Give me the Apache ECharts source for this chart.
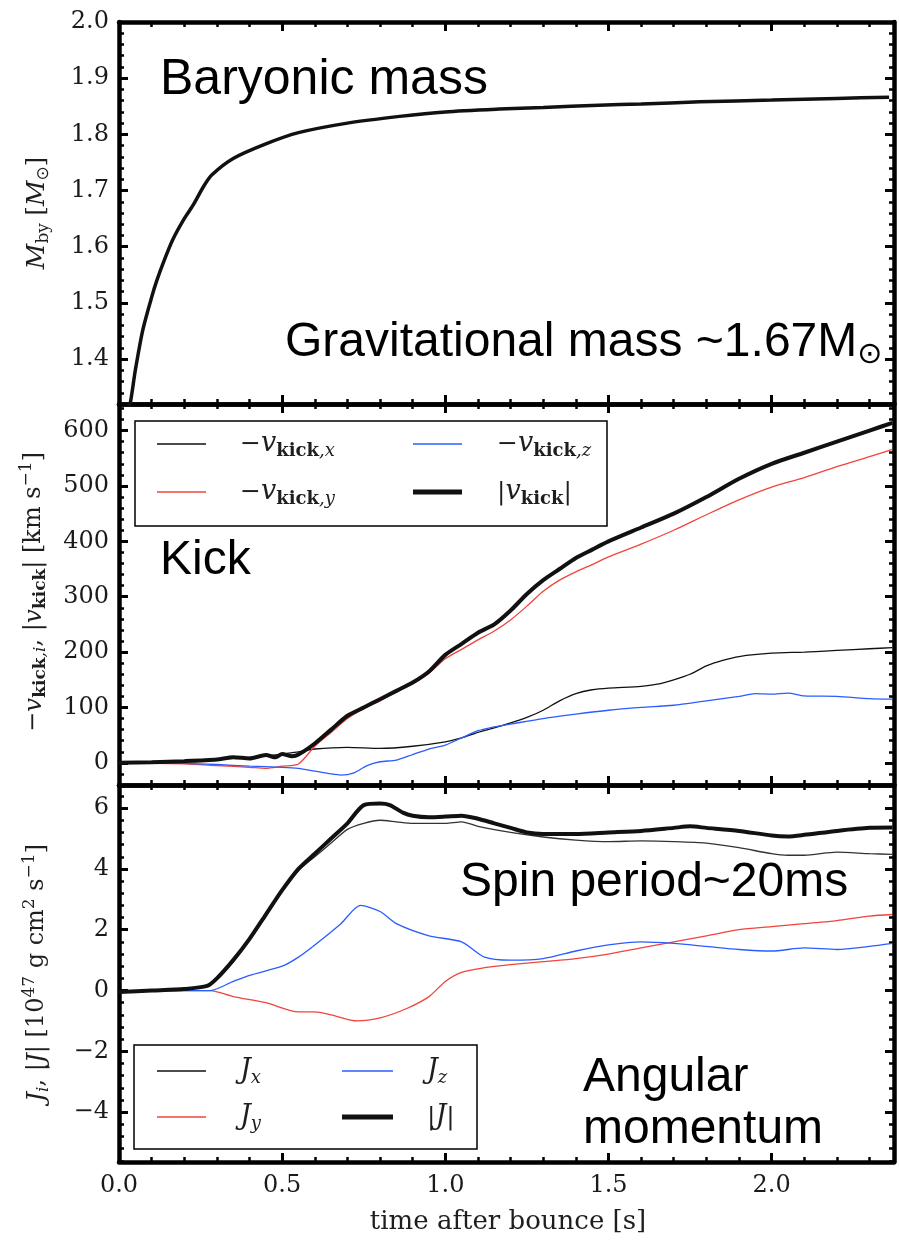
<!DOCTYPE html>
<html>
<head>
<meta charset="utf-8">
<script src="https://cdn.jsdelivr.net/npm/echarts@6/dist/echarts.min.js"></script>
<style>html,body{margin:0;padding:0;background:#fff;}#c{width:899px;height:1247px;}</style>
</head>
<body>
<div id="c"></div>
<script>
// ---------- data ----------
const X_TICKS = [0, 0.5, 1.0, 1.5, 2.0];
const M_TICKS = [1.4, 1.5, 1.6, 1.7, 1.8, 1.9, 2.0];
const V_TICKS = [0, 100, 200, 300, 400, 500, 600];
const J_TICKS = [-4, -2, 0, 2, 4, 6];

// Panel 1: baryonic mass
const T_MASS = [0.02, 0.035, 0.05, 0.073, 0.1, 0.116, 0.14, 0.165, 0.2, 0.226, 0.26, 0.285, 0.35, 0.45, 0.55, 0.7, 0.86, 1.0, 1.165, 1.3, 1.47, 1.6, 1.78, 2.0, 2.2, 2.36];
const M_BY   = [1.29, 1.323, 1.38, 1.452, 1.51, 1.54, 1.578, 1.613, 1.650, 1.673, 1.708, 1.728, 1.757, 1.783, 1.803, 1.820, 1.832, 1.840, 1.845, 1.848, 1.852, 1.854, 1.858, 1.861, 1.864, 1.866];

// Panel 2: kick velocity
const T_VX = [0, 0.1, 0.2, 0.3, 0.35, 0.4, 0.45, 0.5, 0.55, 0.6, 0.7, 0.8, 0.9, 1.0, 1.05, 1.1, 1.15, 1.2, 1.25, 1.3, 1.35, 1.4, 1.45, 1.5, 1.6, 1.65, 1.7, 1.75, 1.8, 1.85, 1.9, 2.0, 2.1, 2.2, 2.3, 2.37];
const VX   = [0, 1, 3, 6, 8, 10, 12, 16, 20, 25, 28, 26, 30, 38, 45, 55, 63, 72, 82, 95, 112, 125, 132, 135, 138, 142, 150, 160, 175, 185, 192, 198, 200, 203, 206, 208];
const T_VY = [0, 0.2, 0.3, 0.4, 0.45, 0.5, 0.55, 0.6, 0.65, 0.7, 0.75, 0.8, 0.85, 0.9, 0.95, 1.0, 1.05, 1.1, 1.15, 1.2, 1.25, 1.3, 1.35, 1.4, 1.45, 1.5, 1.6, 1.7, 1.8, 1.9, 2.0, 2.1, 2.2, 2.3, 2.37];
const VY   = [0, -2, -5, -8, -10, -6, -2, 30, 55, 80, 98, 112, 128, 143, 162, 188, 205, 222, 238, 258, 283, 310, 330, 345, 358, 372, 395, 420, 448, 475, 498, 515, 535, 553, 566];
const T_VZ = [0, 0.2, 0.3, 0.4, 0.5, 0.55, 0.6, 0.65, 0.68, 0.72, 0.76, 0.8, 0.85, 0.9, 0.95, 1.0, 1.05, 1.1, 1.15, 1.2, 1.3, 1.4, 1.5, 1.6, 1.7, 1.8, 1.9, 1.95, 2.0, 2.05, 2.1, 2.2, 2.3, 2.37];
const VZ   = [0, -1, -3, -6, -8, -10, -15, -20, -22, -18, -5, 2, 5, 15, 25, 32, 45, 58, 65, 70, 80, 88, 95, 100, 104, 112, 120, 125, 124, 126, 121, 120, 116, 115];
const T_VA = [0, 0.1, 0.2, 0.3, 0.35, 0.4, 0.45, 0.48, 0.5, 0.53, 0.55, 0.6, 0.65, 0.7, 0.75, 0.8, 0.85, 0.9, 0.95, 1.0, 1.05, 1.1, 1.15, 1.2, 1.25, 1.3, 1.35, 1.4, 1.45, 1.5, 1.6, 1.7, 1.8, 1.9, 2.0, 2.1, 2.2, 2.3, 2.37];
const VABS = [0, 1, 3, 6, 10, 8, 14, 10, 16, 12, 15, 35, 60, 85, 100, 115, 130, 145, 165, 195, 215, 235, 250, 275, 305, 330, 350, 370, 385, 400, 425, 450, 480, 513, 540, 560, 580, 600, 614];

// Panel 3: angular momentum
const T_JX = [0, 0.1, 0.2, 0.27, 0.3, 0.35, 0.4, 0.45, 0.5, 0.55, 0.6, 0.65, 0.7, 0.75, 0.8, 0.85, 0.9, 1.0, 1.05, 1.1, 1.2, 1.3, 1.4, 1.5, 1.6, 1.7, 1.8, 1.9, 2.0, 2.05, 2.1, 2.2, 2.3, 2.37];
const JX   = [-0.05, 0, 0.05, 0.15, 0.38, 0.95, 1.65, 2.45, 3.25, 3.95, 4.4, 4.85, 5.3, 5.5, 5.6, 5.55, 5.5, 5.5, 5.55, 5.4, 5.2, 5.05, 4.95, 4.9, 4.92, 4.9, 4.85, 4.7, 4.5, 4.45, 4.45, 4.55, 4.5, 4.48];
const T_JY = [0, 0.2, 0.28, 0.35, 0.45, 0.55, 0.6, 0.65, 0.73, 0.8, 0.88, 0.95, 1.0, 1.05, 1.12, 1.2, 1.3, 1.4, 1.5, 1.6, 1.7, 1.8, 1.9, 2.0, 2.1, 2.2, 2.3, 2.37];
const JY   = [-0.05, 0, 0, -0.2, -0.4, -0.7, -0.7, -0.8, -1.0, -0.9, -0.6, -0.2, 0.3, 0.6, 0.75, 0.85, 0.95, 1.05, 1.2, 1.4, 1.6, 1.8, 2.0, 2.1, 2.2, 2.3, 2.45, 2.5];
const T_JZ = [0, 0.2, 0.28, 0.35, 0.4, 0.5, 0.55, 0.6, 0.68, 0.74, 0.8, 0.85, 0.95, 1.05, 1.12, 1.2, 1.3, 1.4, 1.5, 1.6, 1.7, 1.8, 1.9, 2.0, 2.1, 2.2, 2.3, 2.37];
const JZ   = [-0.05, 0, 0, 0.3, 0.5, 0.8, 1.1, 1.5, 2.2, 2.8, 2.6, 2.2, 1.8, 1.6, 1.1, 1.0, 1.05, 1.3, 1.5, 1.6, 1.55, 1.45, 1.35, 1.3, 1.4, 1.35, 1.45, 1.55];
const T_JA = [0, 0.1, 0.2, 0.27, 0.3, 0.35, 0.4, 0.45, 0.5, 0.55, 0.6, 0.65, 0.7, 0.75, 0.8, 0.83, 0.87, 0.9, 0.95, 1.0, 1.05, 1.1, 1.15, 1.2, 1.25, 1.3, 1.4, 1.5, 1.6, 1.7, 1.75, 1.8, 1.9, 2.0, 2.05, 2.1, 2.2, 2.3, 2.37];
const JABS = [-0.05, 0, 0.05, 0.15, 0.4, 1.0, 1.7, 2.5, 3.3, 4.0, 4.5, 5.0, 5.5, 6.1, 6.15, 6.1, 5.85, 5.75, 5.7, 5.72, 5.75, 5.65, 5.5, 5.35, 5.2, 5.15, 5.15, 5.2, 5.25, 5.35, 5.4, 5.35, 5.25, 5.1, 5.07, 5.12, 5.25, 5.35, 5.36];

// ---------- helpers ----------
const zip = (a, b) => a.map((t, i) => [t, b[i]]);
const range = (a, b, s) => { const r = []; for (let v = a; v <= b + 1e-9; v += s) r.push(+v.toFixed(4)); return r; };
const X_MINOR = range(0, 2.3, 0.1);
const M_MINOR = range(1.34, 2.0, 0.02);
const V_MINOR = range(-40, 640, 20);
const J_MINOR = range(-5.6, 6.4, 0.4);

const GRIDS = [
  { left: 119, right: 5, top: 22, height: 382 },
  { left: 119, right: 5, top: 404, height: 381 },
  { left: 119, right: 5, top: 785, height: 377 }
];
const YRANGE = [[1.32, 2.0], [-40, 648], [-5.64, 6.76]];
const YMAJ = [M_TICKS, V_TICKS, J_TICKS];
const YMIN = [M_MINOR, V_MINOR, J_MINOR];
const fmtY = [v => v.toFixed(1), v => String(v), v => (v < 0 ? '\u2212' + Math.abs(v) : String(v))];

const SERIF = 'DejaVu Serif';
const SANS = 'Liberation Sans';
const LBL = { fontFamily: SERIF, fontSize: 24, color: '#1a1a1a' };
const frameLine = { show: true, onZero: false, lineStyle: { color: '#000', width: 4.5 } };
const noLine = { show: false, onZero: false };

const xAxes = [], yAxes = [];
for (let g = 0; g < 3; g++) {
  ['bottom', 'top'].forEach(pos => {
    xAxes.push({
      gridIndex: g, type: 'value', position: pos, min: 0, max: 2.375,
      axisLine: frameLine,
      axisTick: { show: true, inside: true, length: 9, customValues: X_TICKS, lineStyle: { color: '#000', width: 3 } },
      axisLabel: (g === 2 && pos === 'bottom')
        ? Object.assign({ show: true, customValues: X_TICKS, margin: 12, formatter: v => v.toFixed(1) }, LBL)
        : { show: false },
      splitLine: { show: false }
    });
    xAxes.push({
      gridIndex: g, type: 'value', position: pos, min: 0, max: 2.375,
      axisLine: noLine,
      axisTick: { show: true, inside: true, length: 5, customValues: X_MINOR, lineStyle: { color: '#000', width: 2.5 } },
      axisLabel: { show: false }, splitLine: { show: false }
    });
  });
  ['left', 'right'].forEach(pos => {
    yAxes.push({
      gridIndex: g, type: 'value', position: pos, min: YRANGE[g][0], max: YRANGE[g][1],
      axisLine: frameLine,
      axisTick: { show: true, inside: true, length: 9, customValues: YMAJ[g], lineStyle: { color: '#000', width: 3 } },
      axisLabel: pos === 'left'
        ? Object.assign({ show: true, customValues: YMAJ[g], margin: 10, formatter: fmtY[g] }, LBL)
        : { show: false },
      splitLine: { show: false }
    });
    yAxes.push({
      gridIndex: g, type: 'value', position: pos, min: YRANGE[g][0], max: YRANGE[g][1],
      axisLine: noLine,
      axisTick: { show: true, inside: true, length: 5, customValues: YMIN[g], lineStyle: { color: '#000', width: 2.5 } },
      axisLabel: { show: false }, splitLine: { show: false }
    });
  });
}

const BLUE = '#2a5cff', RED = '#f0443c', BLK = '#111';
function line(g, t, v, color, width, z) {
  return {
    type: 'line', xAxisIndex: g * 4, yAxisIndex: g * 4, data: zip(t, v),
    showSymbol: false, symbol: 'none', smooth: 0.25, z: z || 2,
    lineStyle: { color: color, width: width }, itemStyle: { color: color }, clip: true, animation: false
  };
}
const series = [
  line(0, T_MASS, M_BY, BLK, 3.5),
  line(1, T_VX, VX, BLK, 1.3),
  line(1, T_VY, VY, RED, 1.3),
  line(1, T_VZ, VZ, BLUE, 1.3),
  line(1, T_VA, VABS, BLK, 4, 3),
  line(2, T_JX, JX, '#333', 1.3),
  line(2, T_JY, JY, RED, 1.3),
  line(2, T_JZ, JZ, BLUE, 1.3),
  line(2, T_JA, JABS, BLK, 4, 3)
];

// ---------- text / legend graphics ----------
function ann(x, y, text, size, rich) {
  return { type: 'text', x: x, y: y, z: 50, style: { text: text, fontFamily: SANS, fontSize: size, fill: '#000', align: 'left', verticalAlign: 'middle', rich: rich } };
}
const TC = '#1e1e1e';
const legRich = {
  n: { fontFamily: SERIF, fontSize: 25, fill: TC },
  v: { fontFamily: SERIF, fontSize: 27, fontStyle: 'italic', fill: TC },
  s: { fontFamily: SERIF, fontSize: 18, fontWeight: 'bold', fill: TC, verticalAlign: 'bottom', padding: [14, 0, 0, 0] },
  si: { fontFamily: SERIF, fontSize: 18, fontStyle: 'italic', fill: TC, verticalAlign: 'bottom', padding: [14, 0, 0, 0] }
};
function legText(x, y, text) {
  return { type: 'text', x: x, y: y, z: 60, style: { text: text, rich: legRich, align: 'left', verticalAlign: 'middle' } };
}
function legLine(x1, x2, y, color, w) {
  return { type: 'line', z: 60, shape: { x1: x1, y1: y, x2: x2, y2: y }, style: { stroke: color, lineWidth: w } };
}
function legBox(x, y, w, h) {
  return { type: 'rect', z: 55, shape: { x: x, y: y, width: w, height: h }, style: { fill: '#fff', stroke: '#000', lineWidth: 1.5 } };
}
const nameRich = {
  n: { fontFamily: SERIF, fontSize: 24, fill: TC },
  i: { fontFamily: SERIF, fontSize: 25, fontStyle: 'italic', fill: TC },
  s: { fontFamily: SERIF, fontSize: 17, fill: TC, verticalAlign: 'bottom', padding: [14, 0, 0, 0] },
  sb: { fontFamily: SERIF, fontSize: 17, fontWeight: 'bold', fill: TC, verticalAlign: 'bottom', padding: [14, 0, 0, 0] },
  si: { fontFamily: SERIF, fontSize: 17, fontStyle: 'italic', fill: TC, verticalAlign: 'bottom', padding: [14, 0, 0, 0] },
  sup: { fontFamily: SERIF, fontSize: 17, fill: TC, verticalAlign: 'top', padding: [0, 0, 12, 0] },
  o: { fontFamily: 'DejaVu Sans', fontSize: 17, fill: TC, verticalAlign: 'bottom', padding: [12, 0, 0, 0] }
};
function yName(x, y, text) {
  return { type: 'text', x: x, y: y, rotation: Math.PI / 2, z: 50, style: { text: text, rich: nameRich, align: 'center', verticalAlign: 'middle' } };
}

const graphic = [
  ann(160, 80, 'Baryonic mass', 50),
  ann(285, 343, 'Gravitational mass ~1.67M{o|\u2299}', 48, { o: { fontFamily: 'DejaVu Sans', fontSize: 30, fill: '#000', verticalAlign: 'bottom', padding: [24, 0, 0, 0] } }),
  ann(160, 561, 'Kick', 48),
  ann(460, 883, 'Spin period~20ms', 48),
  ann(583, 1078, 'Angular', 48),
  ann(583, 1130, 'momentum', 48),

  legBox(135, 421, 472, 105),
  legLine(157, 206, 444, BLK, 1.3), legText(240, 444, '{n|\u2212}{v|v}{s|kick}{si|,x}'),
  legLine(413, 462, 444, BLUE, 1.5), legText(497, 444, '{n|\u2212}{v|v}{s|kick}{si|,z}'),
  legLine(157, 206, 492, RED, 1.5), legText(240, 492, '{n|\u2212}{v|v}{s|kick}{si|,y}'),
  legLine(413, 462, 492, BLK, 5), legText(497, 492, '{n||}{v|v}{s|kick}{n||}'),

  legBox(134, 1045, 343, 104),
  legLine(157, 206, 1071, BLK, 1.3), legText(240, 1071, '{v|J}{si|x}'),
  legLine(342, 393, 1071, BLUE, 1.5), legText(427, 1071, '{v|J}{si|z}'),
  legLine(157, 206, 1117, RED, 1.5), legText(240, 1117, '{v|J}{si|y}'),
  legLine(342, 393, 1117, BLK, 5), legText(427, 1117, '{n||}{v|J}{n||}'),

  yName(37, 213, '{i|M}{s|by}{n| [}{i|M}{o|\u2299}{n|]}'),
  yName(34, 592, '{n|\u2212}{i|v}{sb|kick}{si|,i}{n|, |}{i|v}{sb|kick}{n|| [km s}{sup|\u22121}{n|]}'),
  yName(37, 973, '{i|J}{si|i}{n|, |}{i|J}{n|| [10}{sup|47}{n| g cm}{sup|2}{n| s}{sup|\u22121}{n|]}'),
  { type: 'text', x: 508, y: 1222, z: 50, style: { text: 'time after bounce [s]', fontFamily: SERIF, fontSize: 26, fill: TC, align: 'center', verticalAlign: 'middle' } }
];

const chart = echarts.init(document.getElementById('c'), null, { renderer: 'canvas' });
chart.setOption({
  animation: false,
  backgroundColor: '#fff',
  grid: GRIDS,
  xAxis: xAxes,
  yAxis: yAxes,
  series: series,
  graphic: graphic
});
</script>
</body>
</html>
